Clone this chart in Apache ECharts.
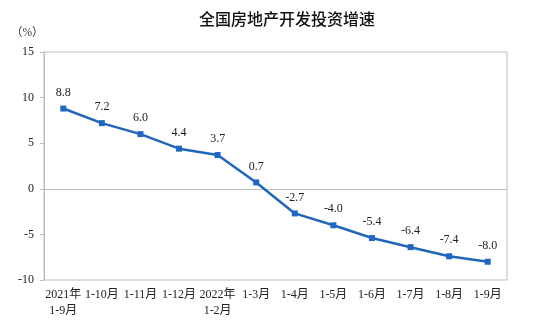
<!DOCTYPE html>
<html>
<head>
<meta charset="utf-8">
<script src="https://cdn.jsdelivr.net/npm/echarts@6/dist/echarts.min.js"></script>
<style>
  html, body { margin: 0; padding: 0; background: #fff; }
  #chart { width: 536px; height: 322px; }
</style>
</head>
<body>
<div id="chart"></div>
<script>
// Cumulative year-on-year growth of national real-estate development investment (%)
const categories = ['2021年\n1-9月', '1-10月', '1-11月', '1-12月', '2022年\n1-2月', '1-3月',
                    '1-4月', '1-5月', '1-6月', '1-7月', '1-8月', '1-9月'];
const growth = [8.8, 7.2, 6.0, 4.4, 3.7, 0.7, -2.7, -4.0, -5.4, -6.4, -7.4, -8.0];
const yTicks = { min: -10, max: 15, interval: 5 };

const serif = '"Liberation Serif", "Times New Roman", "Noto Sans CJK SC", serif';
const chart = echarts.init(document.getElementById('chart'));
chart.setOption({
  animation: false,
  title: {
    text: '全国房地产开发投资增速',
    left: 282, top: 6, textAlign: 'center',
    textStyle: { fontFamily: '"Noto Sans CJK SC", sans-serif', fontSize: 16, fontWeight: 500, color: '#111' }
  },
  graphic: [{
    type: 'text', left: 11, top: 27,
    style: { text: '（%）', fontFamily: serif, fontSize: 11.5, fill: '#333' }
  }],
  grid: { left: 44, right: 29, top: 52, bottom: 42, show: true, borderColor: '#bdbdbd', borderWidth: 1 },
  xAxis: {
    type: 'category', data: categories, boundaryGap: true,
    axisLine: { lineStyle: { color: '#bdbdbd' } },
    axisTick: { inside: true, length: 4, lineStyle: { color: '#bdbdbd' } },
    axisLabel: { interval: 0, color: '#222', fontFamily: serif, fontSize: 12, margin: 7, lineHeight: 16 }
  },
  yAxis: {
    type: 'value', min: yTicks.min, max: yTicks.max, interval: yTicks.interval,
    splitLine: { show: false },
    axisLine: { show: true, lineStyle: { color: '#bdbdbd' } },
    axisTick: { show: true, length: 4, lineStyle: { color: '#bdbdbd' } },
    axisLabel: { color: '#222', fontFamily: serif, fontSize: 12, margin: 10 }
  },
  series: [{
    type: 'line', data: growth,
    symbol: 'rect', symbolSize: 6,
    lineStyle: { color: '#2166b8', width: 2.5 },
    itemStyle: { color: '#1f67c2' },
    label: {
      show: true, position: 'top', distance: 7,
      formatter: p => p.value.toFixed(1),
      color: '#222', fontFamily: serif, fontSize: 12
    }
  }]
});
</script>
</body>
</html>
